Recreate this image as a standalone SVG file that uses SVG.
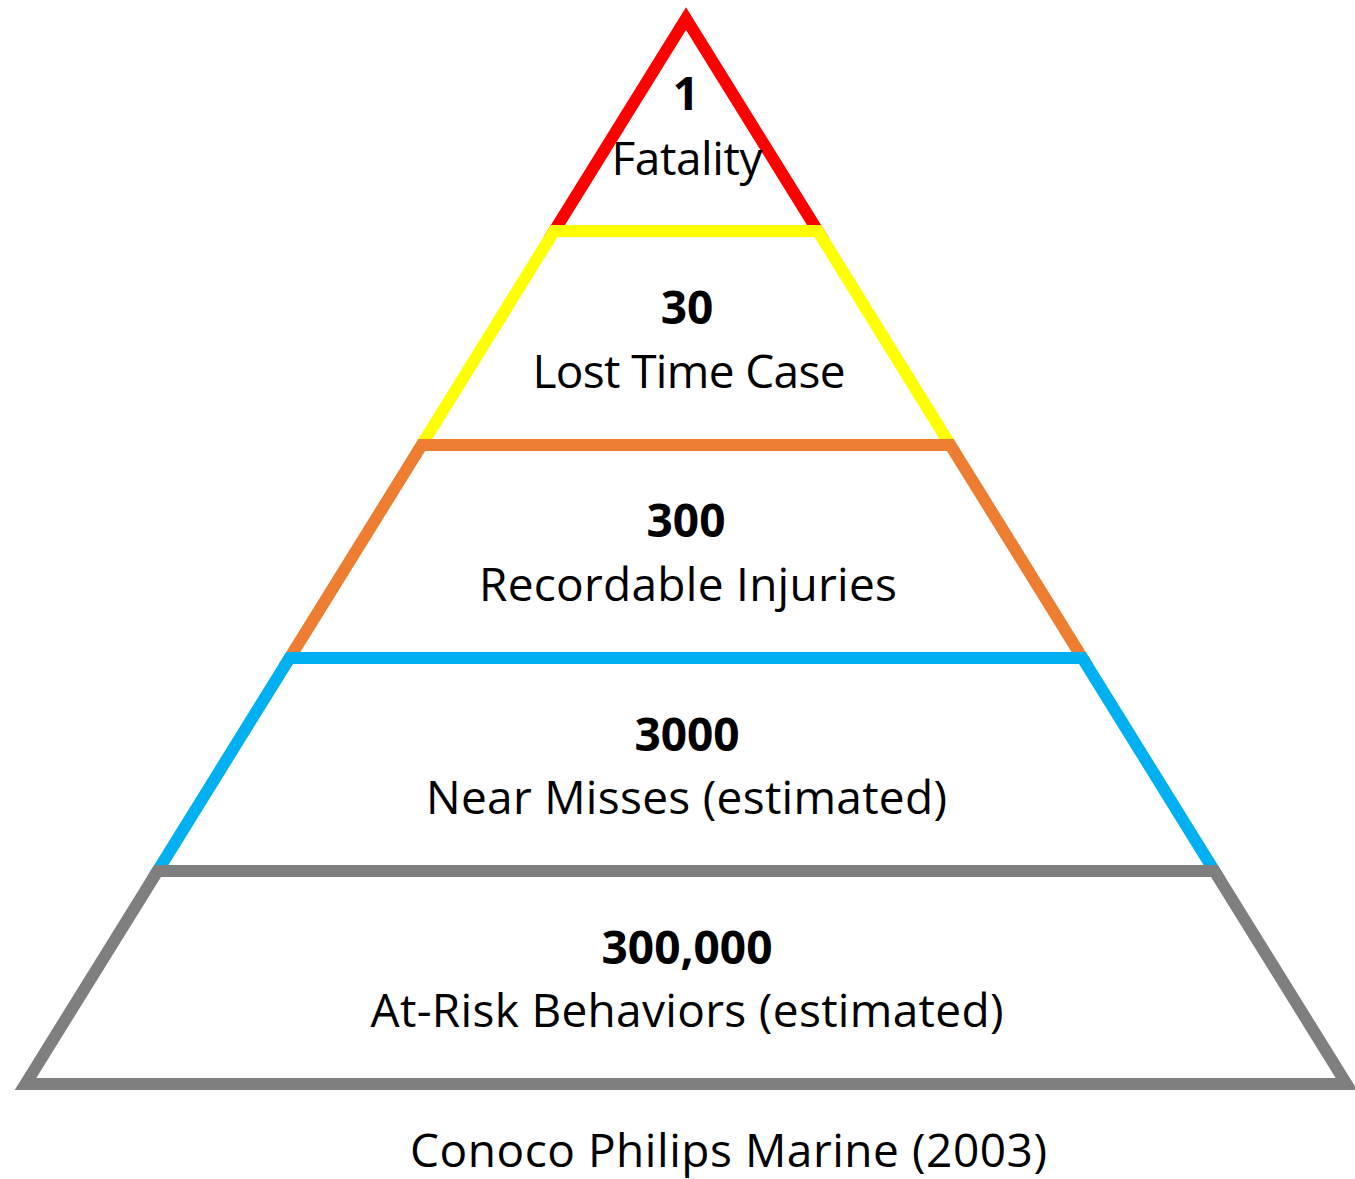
<svg xmlns="http://www.w3.org/2000/svg" width="1355" height="1179" viewBox="0 0 1355 1179">
  <style>
    .layer { fill: #FFFFFF; stroke-width: 12; stroke-linejoin: miter; stroke-miterlimit: 10; }
    .num { font-family: "Open Sans", "Noto Sans", sans-serif; font-weight: bold; font-size: 46px; fill: #000000; text-anchor: middle; }
    .lbl { font-family: "Open Sans", "Noto Sans", sans-serif; font-size: 46px; fill: #000000; text-anchor: middle; }
  </style>
  <rect width="1355" height="1179" fill="#FFFFFF"/>
  <g id="layer-fatality">
    <polygon class="layer" stroke="#FF0000" points="686,18.7 817.8,231 554.2,231"/>
    <text class="num" x="686" y="110">1</text>
    <text class="lbl" x="687" y="175" textLength="151" lengthAdjust="spacing">Fatality</text>
  </g>
  <g id="layer-lost-time">
    <polygon class="layer" stroke="#FFFF00" points="554.2,231 817.8,231 950.3,445 421.7,445"/>
    <text class="num" x="687" y="324">30</text>
    <text class="lbl" x="689" y="388" textLength="313" lengthAdjust="spacing">Lost Time Case</text>
  </g>
  <g id="layer-recordable">
    <polygon class="layer" stroke="#ED7D31" points="421.7,445 950.3,445 1082.4,658 289.6,658"/>
    <text class="num" x="686" y="537">300</text>
    <text class="lbl" x="688" y="601" textLength="418" lengthAdjust="spacing">Recordable Injuries</text>
  </g>
  <g id="layer-near-misses">
    <polygon class="layer" stroke="#00B0F0" points="289.6,658 1082.4,658 1214.4,871 157.6,871"/>
    <text class="num" x="687" y="751">3000</text>
    <text class="lbl" x="686.5" y="814" textLength="521" lengthAdjust="spacing">Near Misses (estimated)</text>
  </g>
  <g id="layer-at-risk">
    <polygon class="layer" stroke="#7F7F7F" points="157.6,871 1214.4,871 1346.5,1084 25.5,1084"/>
    <text class="num" x="687" y="964">300,000</text>
    <text class="lbl" x="687" y="1027" textLength="633" lengthAdjust="spacing">At-Risk Behaviors (estimated)</text>
  </g>
  <g id="caption">
    <text class="lbl" x="728.5" y="1167" textLength="637" lengthAdjust="spacing">Conoco Philips Marine (2003)</text>
  </g>
</svg>
